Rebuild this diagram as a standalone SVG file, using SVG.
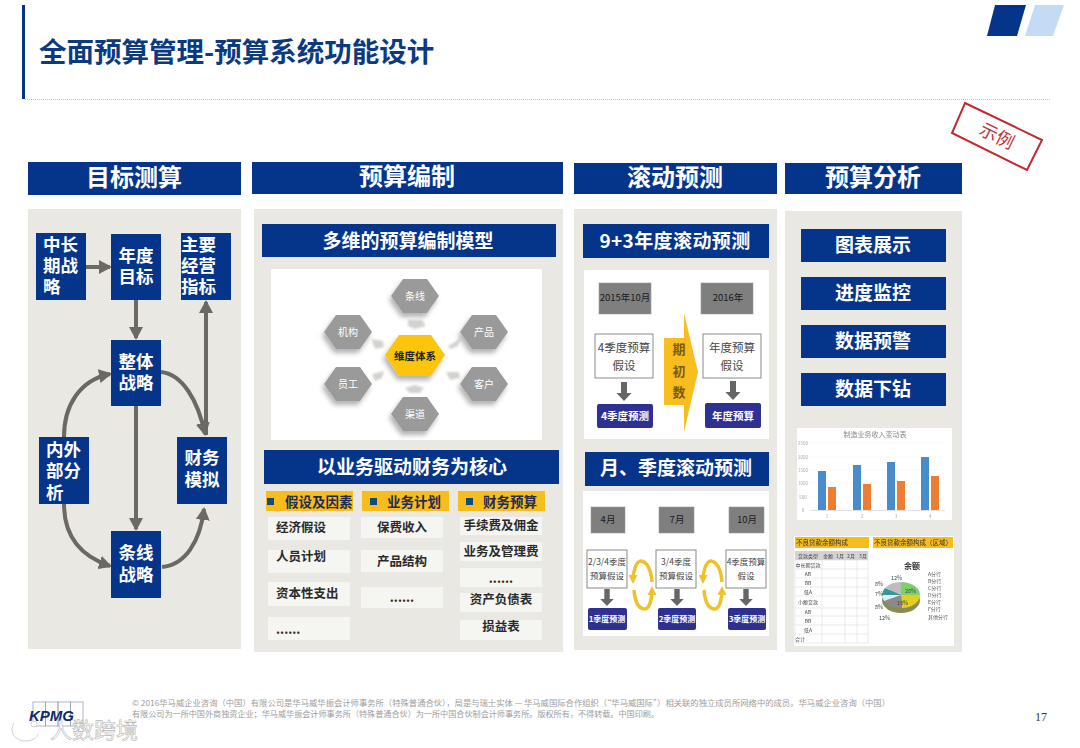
<svg xmlns="http://www.w3.org/2000/svg" width="1080" height="748" viewBox="0 0 1080 748">
<style>
text{font-family:"Noto Sans CJK SC","Noto Sans",sans-serif;dominant-baseline:central;transform:translate(0,-.09em)}
.m{text-anchor:middle}
.nv{fill:#05358a}
.pn{fill:#e9e8e2}
.h1{fill:#fff;font-size:24px;font-weight:700;text-anchor:middle}
.h2{fill:#fff;font-size:19px;font-weight:700;text-anchor:middle}
.n{fill:#fff;font-size:17.500px;font-weight:700}
.it{fill:#f5f5f2}
.t{fill:#2a2a2a;font-size:12.500px;font-weight:700}
.yh{fill:#f7bd1d}
.bu{fill:#0f4c81}
.yt{fill:#1f2a55;font-size:13.500px;font-weight:700}
.gb{fill:#7f7f7f;stroke:#999;stroke-width:.6}
.bx{fill:#fff;stroke:#8a8a8a;stroke-width:1}
.k{fill:#444;font-size:11.500px;text-anchor:middle}
.ks{fill:#444;font-size:8.500px;text-anchor:middle}
.kb{fill:#1a1a1a;font-size:9.500px;text-anchor:middle}
.bb{fill:#2e3192}
.bt{fill:#fff;font-size:10.500px;font-weight:700;text-anchor:middle}
.bs{fill:#fff;font-size:8px;font-weight:700;text-anchor:middle}
.ln{fill:none;stroke:#6a6a62;stroke-width:4}
.hx{fill:#9a9a9a}
.hxt{fill:#fff;font-size:10px;text-anchor:middle}
.ch{fill:#d2d2cf}
.ax{fill:#aaa;font-size:4.500px;text-anchor:middle}
.bl{fill:#4a8ccb}
.or{fill:#ec7d31}
.tb{fill:none;stroke:#dcdcdc;stroke-width:.6}
.tt{fill:#444;font-size:5px;text-anchor:middle}
.lg{fill:#555;font-size:5px}
.ft{fill:#9c9c9c;font-size:8px}
.rc{fill:none;stroke:#efc12a;stroke-width:3.500}
</style>
<defs>
<marker id="a" markerUnits="userSpaceOnUse" markerWidth="13" markerHeight="14" refX="11" refY="7" orient="auto-start-reverse"><path d="M0 0L13 7L0 14z" fill="#6a6a62"/></marker>
<marker id="y" markerUnits="userSpaceOnUse" markerWidth="9" markerHeight="9" refX="5" refY="4.500" orient="auto"><path d="M0 0L9 4.500L0 9z" fill="#efc12a"/></marker>
<polygon id="hex" points="-24,0 -12,-17 12,-17 24,0 12,17 -12,17"/>
<path id="da" d="M-3 0H3V11H7.500L0 19L-7.500 11H-3z" fill="#666"/>
<filter id="sh" x="-30%" y="-30%" width="170%" height="170%"><feDropShadow dx="-2" dy="4" stdDeviation="2.500" flood-color="#000" flood-opacity=".3"/></filter>
<filter id="b" x="-5%" y="-5%" width="110%" height="110%"><feGaussianBlur stdDeviation=".35"/></filter>
<filter id="bs" x="-30%" y="-30%" width="160%" height="160%"><feGaussianBlur stdDeviation=".8"/></filter>
</defs>
<rect width="1080" height="748" fill="#fff"/>

<g id="title">
<rect x="22" y="5" width="3" height="94" fill="#05358a"/>
<line x1="25" y1="99.500" x2="1050" y2="99.500" stroke="#c4c4c4" stroke-width="1" stroke-dasharray="1 1"/>
<text x="39" y="52" font-size="27.500" font-weight="700" fill="#0b3a80">全面预算管理-预算系统功能设计</text>
<polygon points="987,36 995,5 1026,5 1017,36" fill="#05358a"/>
<polygon points="1025,36 1035,5 1064,5 1053,36" fill="#c3dbf4"/>
</g>
<g id="stamp">
<polygon points="965,103 1042,140 1027,170 952,133" fill="none" stroke="#c2282f" stroke-width="2"/>
<g transform="rotate(26 997 136)"><text x="997" y="136" class="m" font-size="18" fill="#c2333a">示例</text></g>
</g>

<g id="panel-target">
<rect class="nv" x="28" y="162" width="213" height="33"/>
<text class="h1" x="134" y="178">目标测算</text>
<rect class="pn" x="28" y="209" width="213" height="440"/>
</g>
<g id="panel-budget">
<rect class="nv" x="252" y="162" width="311" height="32"/>
<text class="h1" x="407" y="177">预算编制</text>
<rect class="pn" x="254" y="209" width="309" height="443"/>
</g>
<g id="panel-rolling">
<rect class="nv" x="574" y="163" width="203" height="31"/>
<text class="h1" x="675" y="178">滚动预测</text>
<rect class="pn" x="574" y="209" width="203" height="441"/>
</g>
<g id="panel-analysis">
<rect class="nv" x="785" y="163" width="177" height="31"/>
<text class="h1" x="873" y="178">预算分析</text>
<rect class="pn" x="785" y="211" width="177" height="441"/>
</g>

<g id="connectors">
<path class="ln" d="M86 267H110" marker-end="url(#a)"/>
<path class="ln" d="M136 300V338" marker-end="url(#a)"/>
<path class="ln" d="M136 406V529" marker-end="url(#a)"/>
<path class="ln" d="M206 435V302" marker-end="url(#a)"/>
<path class="ln" d="M161 372C182 374 198 400 205 434" marker-end="url(#a)"/>
<path class="ln" d="M64 437C64 405 80 380 110 374" marker-end="url(#a)"/>
<path class="ln" d="M64 504C64 535 80 556 110 566" marker-end="url(#a)"/>
<path class="ln" d="M162 567C185 565 200 542 204 509" marker-end="url(#a)"/>
</g>

<g id="n-midlong"><rect class="nv" x="36" y="233" width="50" height="67"/><text class="n" x="43" y="245">中长</text><text class="n" x="43" y="266">期战</text><text class="n" x="43" y="287">略</text></g>
<g id="n-annual"><rect class="nv" x="111" y="234" width="50" height="66"/><text class="n m" x="136" y="256">年度</text><text class="n m" x="136" y="277">目标</text></g>
<g id="n-kpi"><rect class="nv" x="181" y="233" width="50" height="67"/><text class="n" x="181" y="245">主要</text><text class="n" x="181" y="266">经营</text><text class="n" x="181" y="287">指标</text></g>
<g id="n-overall"><rect class="nv" x="111" y="340" width="50" height="66"/><text class="n m" x="136" y="362">整体</text><text class="n m" x="136" y="383">战略</text></g>
<g id="n-analysis"><rect class="nv" x="39" y="437" width="50" height="67"/><text class="n" x="46" y="450">内外</text><text class="n" x="46" y="471">部分</text><text class="n" x="46" y="493">析</text></g>
<g id="n-finance"><rect class="nv" x="177" y="437" width="50" height="67"/><text class="n m" x="202" y="458">财务</text><text class="n m" x="202" y="480">模拟</text></g>
<g id="n-line"><rect class="nv" x="111" y="531" width="50" height="67"/><text class="n m" x="136" y="553">条线</text><text class="n m" x="136" y="575">战略</text></g>

<g id="model">
<rect class="nv" x="262" y="224" width="294" height="33"/>
<text class="h2" x="408" y="241">多维的预算编制模型</text>
<rect x="271" y="269" width="271" height="171" fill="#fff"/>
<g filter="url(#bs)">
<polygon class="ch" points="408,320 422,320 426,326 415,329 408,326"/>
<polygon class="ch" points="372,339 383,341 384,347 376,349 373,345"/>
<polygon class="ch" points="448,346 458,340 461,337 458,346 450,349"/>
<polygon class="ch" points="372,374 384,371 382,378 375,381"/>
<polygon class="ch" points="446,372 459,372 460,378 450,380"/>
<polygon class="ch" points="405,388 415,385 424,388 420,393 410,393"/>
</g>
<g filter="url(#sh)">
<use href="#hex" x="415" y="296" class="hx"/>
<use href="#hex" x="348" y="332" class="hx"/>
<use href="#hex" x="484" y="332" class="hx"/>
<use href="#hex" x="348" y="384" class="hx"/>
<use href="#hex" x="484" y="384" class="hx"/>
<use href="#hex" x="415" y="414" class="hx"/>
<polygon points="385,355 399,335 431,335 445,355 431,376 399,376" fill="#fbc50e"/>
</g>
<text class="hxt" x="415" y="296">条线</text>
<text class="hxt" x="348" y="332">机构</text>
<text class="hxt" x="484" y="332">产品</text>
<text class="hxt" x="348" y="384">员工</text>
<text class="hxt" x="484" y="384">客户</text>
<text class="hxt" x="415" y="414">渠道</text>
<text x="415" y="356" class="m" font-size="10.500" font-weight="700" fill="#222">维度体系</text>
</g>

<g id="drivers">
<rect class="nv" x="264" y="450" width="295" height="34"/>
<text class="h2" x="412" y="467">以业务驱动财务为核心</text>
<rect class="yh" x="266" y="491" width="87" height="20"/><rect class="bu" x="267" y="498" width="7" height="7"/><text class="yt" x="285" y="502">假设及因素</text>
<rect class="yh" x="362" y="491" width="87" height="20"/><rect class="bu" x="370" y="498" width="7" height="7"/><text class="yt" x="387" y="502">业务计划</text>
<rect class="yh" x="458" y="491" width="87" height="20"/><rect class="bu" x="466" y="498" width="7" height="7"/><text class="yt" x="483" y="502">财务预算</text>
<rect class="it" x="268" y="517" width="82" height="23"/><text class="t" x="276" y="528">经济假设</text>
<rect class="it" x="268" y="550" width="82" height="23"/><text class="t" x="276" y="557">人员计划</text>
<rect class="it" x="268" y="582" width="82" height="24"/><text class="t" x="276" y="594">资本性支出</text>
<rect class="it" x="268" y="617" width="82" height="23"/><text class="t" x="276" y="630">......</text>
<rect class="it" x="361" y="517" width="82" height="21"/><text class="t" x="377" y="528">保费收入</text>
<rect class="it" x="361" y="550" width="82" height="22"/><text class="t" x="377" y="562">产品结构</text>
<rect class="it" x="361" y="587" width="82" height="21"/><text class="t m" x="402" y="598">......</text>
<rect class="it" x="460" y="517" width="82" height="18"/><text class="t m" x="501" y="526">手续费及佣金</text>
<rect class="it" x="460" y="542" width="82" height="19"/><text class="t m" x="501" y="552">业务及管理费</text>
<rect class="it" x="460" y="568" width="82" height="19"/><text class="t m" x="501" y="579">......</text>
<rect class="it" x="460" y="593" width="82" height="19"/><text class="t m" x="501" y="600">资产负债表</text>
<rect class="it" x="460" y="620" width="82" height="20"/><text class="t m" x="501" y="627">损益表</text>
</g>

<g id="rolling-annual">
<rect class="nv" x="583" y="224" width="186" height="34"/>
<text class="h2" x="675" y="241" letter-spacing=".4">9+3年度滚动预测</text>
<rect x="584" y="270" width="185" height="169" fill="#fff"/>
<rect class="gb" x="599" y="283" width="52" height="31"/><text class="kb" x="625" y="298">2015年10月</text>
<rect class="gb" x="701" y="283" width="52" height="31"/><text class="kb" x="728" y="298">2016年</text>
<rect class="bx" x="595" y="334" width="58" height="44"/><text class="k" x="624" y="348">4季度预算</text><text class="k" x="624" y="366">假设</text>
<rect class="bx" x="703" y="334" width="58" height="44"/><text class="k" x="732" y="348">年度预算</text><text class="k" x="732" y="366">假设</text>
<use href="#da" x="624" y="382"/><use href="#da" x="733" y="381"/>
<rect class="bb" x="597" y="404" width="56" height="24" rx="2"/><text class="bt" x="625" y="416">4季度预测</text>
<rect class="bb" x="705" y="403" width="56" height="25" rx="2"/><text class="bt" x="733" y="416">年度预算</text>
<polygon points="664,338 684,338 684,313 698,372 684,432 684,405 664,405" fill="#f8bd1f"/>
<text x="679" y="350" class="m" font-size="13" font-weight="700" fill="#7a5a10">期</text>
<text x="679" y="372" class="m" font-size="13" font-weight="700" fill="#7a5a10">初</text>
<text x="679" y="393" class="m" font-size="13" font-weight="700" fill="#7a5a10">数</text>
</g>

<g id="rolling-quarter">
<rect class="nv" x="585" y="452" width="184" height="34"/>
<text class="h2" x="676" y="468">月、季度滚动预测</text>
<rect x="583" y="491" width="186" height="145" fill="#fff"/>
<rect class="gb" x="591" y="507" width="34" height="26"/><text class="kb" x="608" y="520">4月</text>
<rect class="gb" x="659" y="507" width="35" height="26"/><text class="kb" x="677" y="520">7月</text>
<rect class="gb" x="729" y="507" width="35" height="26"/><text class="kb" x="747" y="520">10月</text>
<rect class="bx" x="587" y="550" width="40" height="38"/><text class="ks" x="607" y="562">2/3/4季度</text><text class="ks" x="607" y="576">预算假设</text>
<rect class="bx" x="656" y="550" width="40" height="38"/><text class="ks" x="676" y="562">3/4季度</text><text class="ks" x="676" y="576">预算假设</text>
<rect class="bx" x="726" y="550" width="40" height="38"/><text class="ks" x="746" y="562">4季度预算</text><text class="ks" x="746" y="576">假设</text>
<g transform="translate(607 589) scale(.9)"><use href="#da"/></g>
<g transform="translate(677 589) scale(.9)"><use href="#da"/></g>
<g transform="translate(746 589) scale(.9)"><use href="#da"/></g>
<rect class="bb" x="588" y="608" width="39" height="22" rx="2"/><text class="bs" x="607" y="619">1季度预测</text>
<rect class="bb" x="658" y="608" width="38" height="22" rx="2"/><text class="bs" x="677" y="619">2季度预测</text>
<rect class="bb" x="728" y="608" width="38" height="22" rx="2"/><text class="bs" x="747" y="619">3季度预测</text>
<path class="rc" d="M652 582C651 570 647 562 641 561C636 561 633 572 633 580" marker-end="url(#y)"/>
<path class="rc" d="M634 590C635 602 639 609 645 609C650 608 652 598 652 590" marker-end="url(#y)"/>
<path class="rc" d="M722 582C721 570 717 562 711 561C706 561 703 572 703 580" marker-end="url(#y)"/>
<path class="rc" d="M704 590C705 602 709 609 715 609C720 608 722 598 722 590" marker-end="url(#y)"/>
</g>

<g id="b-chart"><rect class="nv" x="801" y="229" width="145" height="33"/><text class="h2" x="873" y="245">图表展示</text></g>
<g id="b-monitor"><rect class="nv" x="801" y="277" width="145" height="33"/><text class="h2" x="873" y="293">进度监控</text></g>
<g id="b-warn"><rect class="nv" x="801" y="325" width="145" height="33"/><text class="h2" x="873" y="341">数据预警</text></g>
<g id="b-drill"><rect class="nv" x="801" y="373" width="145" height="33"/><text class="h2" x="873" y="389">数据下钻</text></g>

<g id="bar-chart" filter="url(#b)">
<rect x="797" y="428" width="155" height="92" fill="#fff"/>
<text x="875" y="435" class="m" font-size="7" fill="#888">制造业务收入变动表</text>
<g fill="none" stroke="#f0f0f0" stroke-width=".5"><path d="M810 443H945M810 457H945M810 470H945M810 483H945M810 497H945"/></g>
<path d="M810 510.500H945" stroke="#ccc" stroke-width=".6"/>
<text class="ax" x="803" y="443">2500</text><text class="ax" x="803" y="457">2000</text><text class="ax" x="803" y="470">1500</text><text class="ax" x="803" y="483">1000</text><text class="ax" x="803" y="497">500</text><text class="ax" x="803" y="510">0</text>
<rect class="bl" x="818" y="471" width="8" height="39"/><rect class="or" x="828" y="487" width="8" height="23"/>
<rect class="bl" x="853" y="465" width="8" height="45"/><rect class="or" x="863" y="484" width="8" height="26"/>
<rect class="bl" x="887" y="462" width="8" height="48"/><rect class="or" x="897" y="481" width="8" height="29"/>
<rect class="bl" x="921" y="457" width="8" height="53"/><rect class="or" x="931" y="476" width="8" height="34"/>
<text class="ax" x="827" y="516">1</text><text class="ax" x="862" y="516">2</text><text class="ax" x="896" y="516">3</text><text class="ax" x="930" y="516">4</text>
</g>

<g id="table-pie" filter="url(#b)">
<rect x="794" y="536" width="160" height="110" fill="#fff"/>
<rect class="yh" x="795" y="537" width="74" height="11"/><text x="796" y="543" font-size="6.500" fill="#333">不良贷款余额构成</text>
<rect class="yh" x="873" y="537" width="80" height="11"/><text x="874" y="543" font-size="6.500" fill="#333">不良贷款余额构成（区域）</text>
<rect x="795" y="551" width="73" height="9" fill="#d2d2d2"/>
<path class="tb" d="M795 560H868M795 569H868M795 578H868M795 587H868M795 596H868M795 608H868M795 616H868M795 625H868M795 634H868M795 643H868M795 551V643M822 551V643M845 551V643M857 551V643M868 551V643"/>
<text class="tt" x="808" y="555.500">贷款类型</text><text class="tt" x="828" y="555.500">金额</text><text class="tt" x="840" y="555.500">1月</text><text class="tt" x="851" y="555.500">2月</text><text class="tt" x="863" y="555.500">3月</text>
<text class="tt" x="808" y="564.500">中长期贷款</text><text class="tt" x="808" y="573.500">AB</text><text class="tt" x="808" y="582.500">BB</text><text class="tt" x="808" y="591.500">低A</text>
<text class="tt" x="808" y="602">小额贷款</text>
<text class="tt" x="808" y="612">AB</text><text class="tt" x="808" y="620.500">BB</text><text class="tt" x="808" y="629.500">低A</text><text class="tt" x="800" y="638.500">合计</text>
<text x="912" y="566" class="m" font-size="8" font-weight="700" fill="#333">余额</text>
<ellipse cx="901" cy="600" rx="19" ry="13" fill="#8a8a55"/>
<path d="M901 595L901 582A19 13 0 0 1 920 595z" fill="#7fd06a"/>
<path d="M901 595L920 595A19 13 0 0 1 902 608z" fill="#e3cf1e"/>
<path d="M901 595L902 608A19 13 0 0 1 884 601z" fill="#8a8a8a"/>
<path d="M901 595L884 601A19 13 0 0 1 882 595z" fill="#ddeef2"/>
<path d="M901 595L882 595A19 13 0 0 1 885 588z" fill="#2f9aa0"/>
<path d="M901 595L885 588A19 13 0 0 1 901 582z" fill="#bdbdbd"/>
<g fill="#444" font-size="5.500"><text x="891" y="578">12%</text><text x="875" y="584">8%</text><text x="875" y="594">7%</text><text x="875" y="607">8%</text><text x="879" y="618">12%</text><text x="905" y="591">28%</text><text x="897" y="603">18%</text></g>
<text class="lg" x="928" y="574">A分行</text><text class="lg" x="928" y="581">B分行</text><text class="lg" x="928" y="588">C分行</text><text class="lg" x="928" y="595">D分行</text><text class="lg" x="928" y="602">E分行</text><text class="lg" x="928" y="609">F分行</text><text class="lg" x="928" y="617">其他分行</text>
</g>

<g id="footer">
<text class="ft" x="132" y="703" textLength="758" lengthAdjust="spacingAndGlyphs">© 2016华马威企业咨询（中国）有限公司是华马威华振会计师事务所（特殊普通合伙），局是与瑞士实体 — 华马威国际合作组织（“华马威国际”）相关联的独立成员所网络中的成员。华马威企业咨询（中国）</text>
<text class="ft" x="132" y="714" textLength="527" lengthAdjust="spacingAndGlyphs">有限公司为一所中国外商独资企业；华马威华振会计师事务所（特殊普通合伙）为一所中国合伙制会计师事务所。版权所有，不得转载。中国印刷。</text>
<text x="1035" y="718" font-size="12" fill="#333" style="font-family:'Liberation Serif',serif">17</text>
<g fill="none" stroke="#9aa4b5" stroke-width=".8"><rect x="33" y="702" width="12.500" height="24"/><rect x="45.500" y="702" width="12.500" height="24"/><rect x="58" y="702" width="12.500" height="24"/><rect x="70.500" y="702" width="12.500" height="24"/></g>
<text x="29" y="717" font-size="15" font-weight="700" font-style="italic" fill="#0f2a6a" style="font-family:'Liberation Sans',sans-serif">KPMG</text>
</g>
<g id="watermark">
<path d="M14 723C9 731 14 741 26 741C33 741 37 737 38 734" fill="none" stroke="#fff" stroke-width="4"/>
<path d="M14 723C9 731 14 741 26 741C33 741 37 737 38 734" fill="none" stroke="#bbb" stroke-width=".7"/>
<circle cx="34" cy="724" r="3" fill="#fff" stroke="#bbb" stroke-width=".6"/>
<text x="50" y="730" font-size="22" fill="#fff" stroke="#b5b5b5" stroke-width=".6">人数跨境</text>
</g>
</svg>
